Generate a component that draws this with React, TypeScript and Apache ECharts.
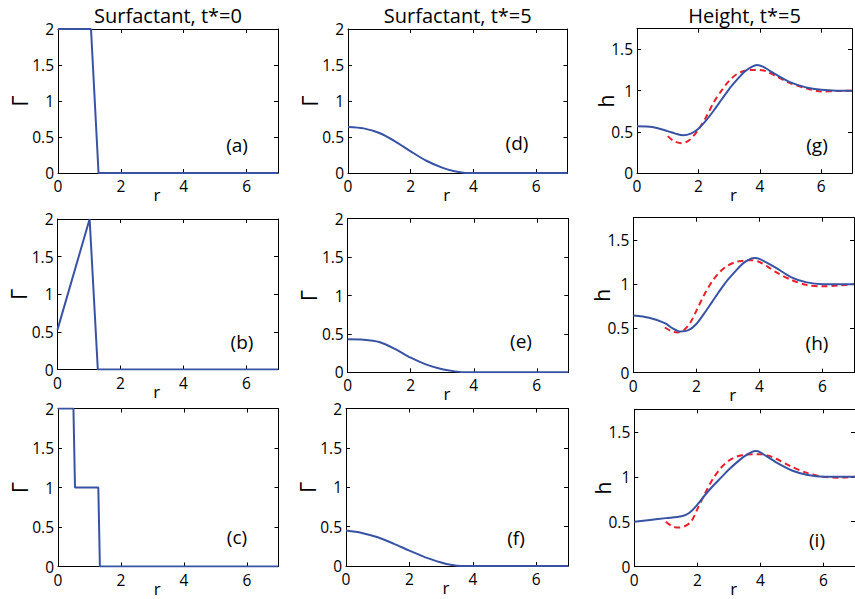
import React, { useEffect, useRef } from "react";
import * as echarts from "echarts";

// ---- data ----
const rA = [0, 1.05, 1.29, 7];
const gammaA = [2, 2, 0, 0];

const rB = [0, 1.02, 1.28, 7];
const gammaB = [0.53, 2, 0, 0];

const rC = [0, 0.49, 0.54, 1.28, 1.33, 7];
const gammaC = [2, 2, 1, 1, 0, 0];

const rD = [0, 0.5, 1, 1.5, 2, 2.5, 3, 3.4, 3.8, 4.2, 7];
const gammaD = [0.64, 0.62, 0.555, 0.44, 0.3, 0.17, 0.075, 0.025, 0, 0, 0];

const rE = [0, 0.5, 1, 1.5, 2, 2.5, 3, 3.4, 3.75, 4.2, 7];
const gammaE = [0.43, 0.425, 0.395, 0.305, 0.19, 0.1, 0.04, 0.012, 0, 0, 0];

const rF = [0, 0.5, 1, 1.5, 2, 2.5, 3, 3.3, 3.65, 4.1, 7];
const gammaF = [0.45, 0.42, 0.365, 0.285, 0.195, 0.11, 0.045, 0.015, 0, 0, 0];

const rG = [0, 0.5, 1, 1.25, 1.5, 1.75, 2, 2.25, 2.5, 2.75, 3, 3.25, 3.5, 3.75, 3.9, 4.1, 4.5, 5, 5.5, 6, 6.5, 7];
const hG = [0.57, 0.56, 0.51, 0.48, 0.46, 0.48, 0.54, 0.64, 0.76, 0.89, 1.02, 1.13, 1.23, 1.29, 1.31, 1.29, 1.2, 1.1, 1.04, 1.01, 1.0, 1.0];
const rGd = [1, 1.2, 1.45, 1.7, 2, 2.25, 2.5, 2.75, 3, 3.25, 3.5, 3.75, 4, 4.25, 4.5, 5, 5.5, 6, 6.5, 7];
const hGd = [0.45, 0.39, 0.365, 0.4, 0.53, 0.68, 0.86, 1.0, 1.12, 1.2, 1.24, 1.25, 1.25, 1.23, 1.18, 1.09, 1.03, 0.99, 0.995, 1.0];

const rH = [0, 0.5, 1, 1.25, 1.5, 1.75, 2, 2.25, 2.5, 2.75, 3, 3.25, 3.5, 3.75, 3.85, 4, 4.5, 5, 5.5, 6, 7];
const hH = [0.645, 0.62, 0.56, 0.5, 0.465, 0.48, 0.55, 0.67, 0.8, 0.93, 1.05, 1.15, 1.24, 1.29, 1.295, 1.285, 1.19, 1.08, 1.02, 1.0, 1.0];
const rHd = [1, 1.2, 1.4, 1.6, 1.8, 2, 2.25, 2.5, 2.75, 3, 3.25, 3.5, 3.75, 4, 4.25, 4.5, 5, 5.5, 6, 6.5, 7];
const hHd = [0.51, 0.47, 0.455, 0.48, 0.56, 0.7, 0.88, 1.03, 1.14, 1.21, 1.25, 1.265, 1.27, 1.25, 1.2, 1.14, 1.05, 0.99, 0.975, 0.985, 1.0];

const rI = [0, 0.5, 1, 1.5, 1.75, 2, 2.25, 2.5, 2.75, 3, 3.25, 3.5, 3.75, 3.85, 4, 4.5, 5, 5.5, 6, 7];
const hI = [0.5, 0.52, 0.54, 0.56, 0.6, 0.69, 0.8, 0.9, 0.99, 1.08, 1.16, 1.23, 1.28, 1.285, 1.27, 1.16, 1.07, 1.02, 1.0, 1.0];
const rId = [1, 1.2, 1.4, 1.6, 1.8, 2, 2.25, 2.5, 2.75, 3, 3.25, 3.5, 3.75, 4, 4.25, 4.5, 5, 5.5, 6, 6.5, 7];
const hId = [0.5, 0.45, 0.435, 0.45, 0.5, 0.64, 0.82, 0.98, 1.1, 1.18, 1.225, 1.245, 1.25, 1.25, 1.235, 1.2, 1.11, 1.04, 1.0, 0.99, 1.0];

const columnTitles = ["Surfactant, t*=0", "Surfactant, t*=5", "Height, t*=5"];
const panelLabels = ["(a)", "(b)", "(c)", "(d)", "(e)", "(f)", "(g)", "(h)", "(i)"];
const xTicks = { min: 0, max: 7, interval: 2 };
const gammaTicks = { min: 0, max: 2, interval: 0.5 };
const hTicks = { min: 0, max: 1.75, interval: 0.5 };

// ---- layout ----
const GRIDS = [
  { l: 58, r: 278, t: 29, b: 173 },
  { l: 57.5, r: 278, t: 219, b: 369.5 },
  { l: 58, r: 278.5, t: 408.5, b: 566.5 },
  { l: 348, r: 567.5, t: 29, b: 173 },
  { l: 347.7, r: 568.3, t: 218.7, b: 372.3 },
  { l: 346, r: 568, t: 408.5, b: 566 },
  { l: 637, r: 852, t: 28.7, b: 173.3 },
  { l: 633.3, r: 854, t: 217.7, b: 372.7 },
  { l: 634.3, r: 856, t: 409.3, b: 566.7 },
];
const LABEL_POS = [
  [237, 145], [242, 342], [237, 537],
  [517, 143], [521, 341], [516, 538],
  [817, 145], [817, 343], [817, 540],
];
const TITLE_Y = 15;

const FONT = "Open Sans";
const BLUE = "#3953a4";
const RED = "#e8202a";

const zip = (xs: number[], ys: number[]) => xs.map((x, i) => [x, ys[i]]);

export default function App() {
  const ref = useRef<HTMLDivElement>(null);
  useEffect(() => {
    document.body.style.margin = "0";
    if (!ref.current) return;
    const chart = echarts.init(ref.current, undefined, { renderer: "svg" });

    const grid = GRIDS.map((g) => ({
      left: g.l,
      top: g.t,
      width: g.r - g.l,
      height: g.b - g.t,
      containLabel: false,
    }));

    const xAxis: any[] = [];
    const yAxis: any[] = [];
    GRIDS.forEach((_, i) => {
      const isH = i >= 6;
      const yt = isH ? hTicks : gammaTicks;
      const lineStyle = { color: "#000", width: 1 };
      xAxis.push({
        type: "value",
        gridIndex: i,
        ...xTicks,
        position: "bottom",
        name: "r",
        nameLocation: "middle",
        nameGap: 13,
        nameMoveOverlap: false,
        nameTextStyle: { fontFamily: FONT, fontSize: 17, color: "#000", padding: [0, 22, 0, 0] },
        axisLine: { show: true, lineStyle, onZero: false },
        axisTick: { show: true, inside: true, length: 4, lineStyle },
        axisLabel: { show: true, showMaxLabel: false, margin: 5, fontFamily: FONT, fontSize: 15.5, color: "#000" },
        splitLine: { show: false },
      });
      xAxis.push({
        type: "value",
        gridIndex: i,
        ...xTicks,
        position: "top",
        axisLine: { show: true, lineStyle, onZero: false },
        axisTick: { show: true, inside: true, length: 4, lineStyle },
        axisLabel: { show: false },
        splitLine: { show: false },
      });
      yAxis.push({
        type: "value",
        gridIndex: i,
        ...yt,
        position: "left",
        name: isH ? "h" : "Γ",
        nameLocation: "middle",
        nameRotate: 90,
        nameGap: isH ? 21 : 28,
        nameMoveOverlap: false,
        nameTextStyle: { fontFamily: FONT, fontSize: 21, color: "#000" },
        axisLine: { show: true, lineStyle, onZero: false },
        axisTick: { show: true, inside: true, length: 4, lineStyle },
        axisLabel: { show: true, showMaxLabel: !isH, margin: 4, fontFamily: FONT, fontSize: 15.5, color: "#000" },
        splitLine: { show: false },
      });
      yAxis.push({
        type: "value",
        gridIndex: i,
        ...yt,
        position: "right",
        axisLine: { show: true, lineStyle, onZero: false },
        axisTick: { show: true, inside: true, length: 4, lineStyle },
        axisLabel: { show: false },
        splitLine: { show: false },
      });
    });

    const solid = (i: number, data: number[][], smooth: boolean | number) => ({
      type: "line",
      xAxisIndex: i * 2,
      yAxisIndex: i * 2,
      data,
      symbol: "none",
      smooth,
      clip: true,
      lineStyle: { color: BLUE, width: 2 },
      z: 3,
    });
    const dashed = (i: number, data: number[][]) => ({
      type: "line",
      xAxisIndex: i * 2,
      yAxisIndex: i * 2,
      data,
      symbol: "none",
      smooth: 0.3,
      clip: true,
      lineStyle: { color: RED, width: 2, type: [6, 4] },
      z: 2,
    });

    const series = [
      solid(0, zip(rA, gammaA), false),
      solid(1, zip(rB, gammaB), false),
      solid(2, zip(rC, gammaC), false),
      solid(3, zip(rD, gammaD), 0.3),
      solid(4, zip(rE, gammaE), 0.3),
      solid(5, zip(rF, gammaF), 0.3),
      dashed(6, zip(rGd, hGd)),
      solid(6, zip(rG, hG), 0.3),
      dashed(7, zip(rHd, hHd)),
      solid(7, zip(rH, hH), 0.3),
      dashed(8, zip(rId, hId)),
      solid(8, zip(rI, hI), 0.3),
    ];

    const graphic: any[] = [];
    columnTitles.forEach((t, c) => {
      const g = GRIDS[c * 3];
      graphic.push({
        type: "text",
        x: (g.l + g.r) / 2,
        y: TITLE_Y,
        style: {
          text: t,
          fill: "#000",
          font: `20px '${FONT}'`,
          align: "center",
          verticalAlign: "middle",
        },
      });
    });
    panelLabels.forEach((t, i) => {
      graphic.push({
        type: "text",
        x: LABEL_POS[i][0],
        y: LABEL_POS[i][1],
        style: {
          text: t,
          fill: "#000",
          font: `19px '${FONT}'`,
          align: "center",
          verticalAlign: "middle",
        },
      });
    });

    chart.setOption({
      animation: false,
      backgroundColor: "#fff",
      grid,
      xAxis,
      yAxis,
      series,
      graphic,
    });
    return () => chart.dispose();
  }, []);
  return <div ref={ref} style={{ width: 855, height: 599 }} />;
}
